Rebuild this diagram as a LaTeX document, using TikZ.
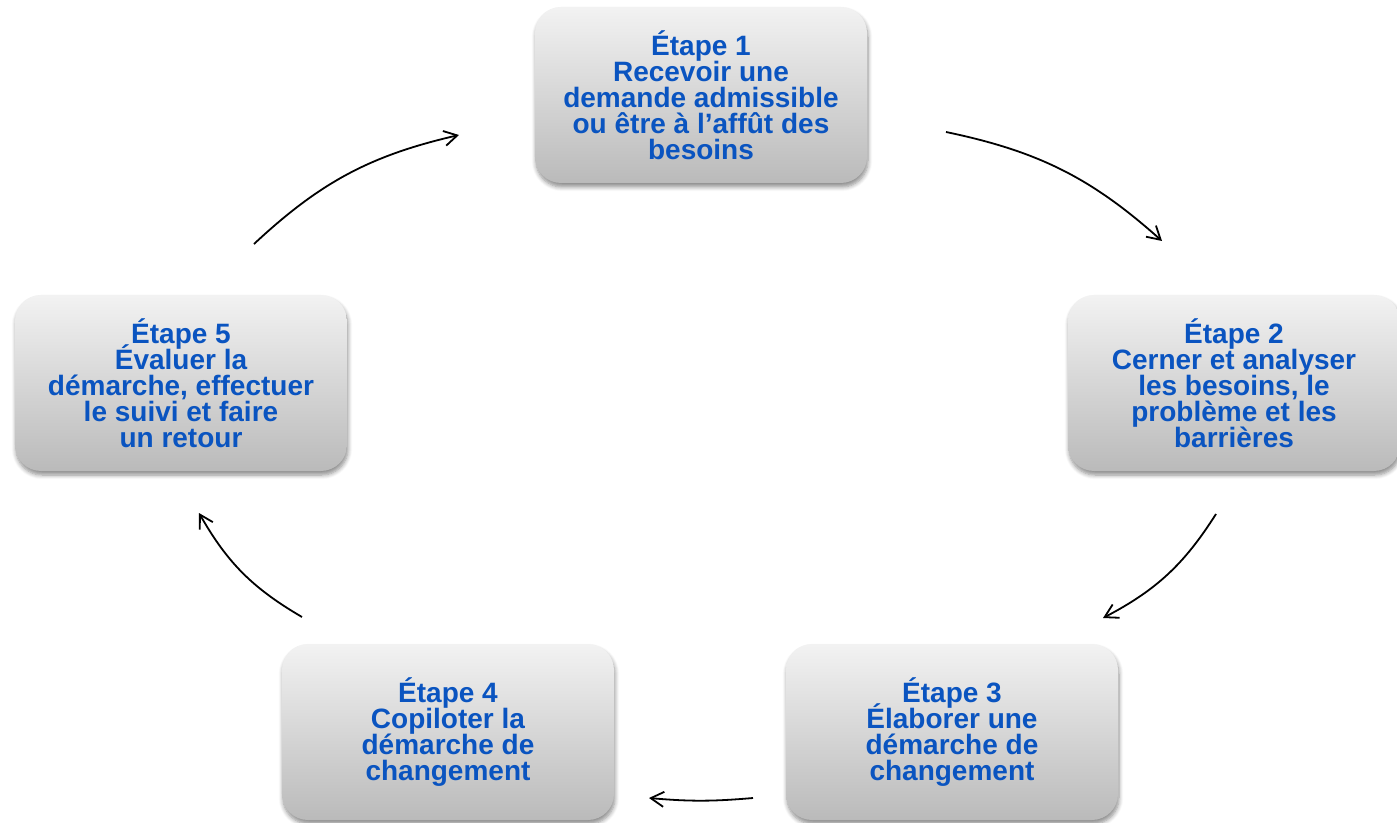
\documentclass[tikz,border=0pt]{standalone}
\usepackage{fontspec}
\setmainfont{Liberation Sans}
\usetikzlibrary{arrows.meta,positioning,shadows.blur}
\definecolor{stagetext}{RGB}{10,84,192}
\newcommand{\stagefont}{\fontsize{14}{13}\selectfont\bfseries\lineskiplimit -20pt\relax}

\begin{document}
\begin{tikzpicture}[->,>={Straight Barb[length=6.5pt,width=7.5pt]},thick,auto,
  stage node/.style={rectangle,rounded corners=13pt,top color=black!5,bottom color=black!27,
    draw=none,minimum width=166pt,minimum height=88pt,align=center,text=stagetext,
    font=\stagefont,
    blur shadow={shadow xshift=0.5pt,shadow yshift=-2pt,shadow blur steps=6,shadow opacity=45}}]

  \useasboundingbox (-350.5pt,47.5pt) rectangle (348pt,-364pt);

  \node[stage node] (Etape1) {Étape 1\\Recevoir une\\demande admissible\\ou être à l’affût des\\besoins};
  \node[stage node] (Etape2) [on grid, below right=144pt and 266.5pt of Etape1] {Étape 2\\Cerner et analyser\\les besoins, le\\problème et les\\barrières};
  \node[stage node] (Etape3) [on grid, below left=174.5pt and 141pt of Etape2] {Étape 3\\Élaborer une\\démarche de\\changement};
  \node[stage node] (Etape4) [on grid, left=252pt of Etape3] {Étape 4\\Copiloter la\\démarche de\\changement};
  \node[stage node] (Etape5) [on grid, left=526.5pt of Etape2] {Étape 5\\Évaluer la\\démarche, effectuer\\le suivi et faire\\un retour};

  \path[line width=0.9pt]
    ([shift={(36.5pt,69.5pt)}]Etape5.center) edge[bend left=15] ([shift={(-121pt,-20pt)}]Etape1.center)
    ([shift={(122.5pt,-18.5pt)}]Etape1.center) edge[bend left=15] ([shift={(-36pt,71pt)}]Etape2.center)
    ([shift={(-9pt,-65.5pt)}]Etape2.center) edge[bend left=15] ([shift={(75.5pt,57pt)}]Etape3.center)
    ([shift={(-99.5pt,-33pt)}]Etape3.center) edge[bend left=5] ([shift={(100.5pt,-33pt)}]Etape4.center)
    ([shift={(-73pt,57.5pt)}]Etape4.center) edge[bend left=15] ([shift={(9pt,-65pt)}]Etape5.center)
    ;
\end{tikzpicture}
\end{document}
